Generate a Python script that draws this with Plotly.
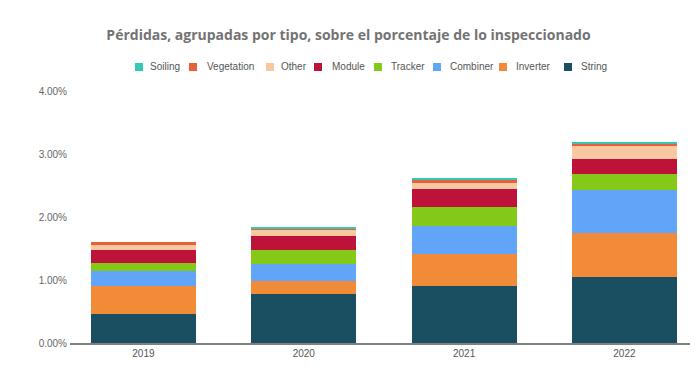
import plotly.graph_objects as go

years = ["2019", "2020", "2021", "2022"]

# stacking order bottom -> top (values in %)
series_names = ["String", "Inverter", "Combiner", "Tracker", "Module", "Other", "Vegetation", "Soiling"]
string_v     = [0.46, 0.78, 0.91, 1.05]
inverter_v   = [0.45, 0.21, 0.51, 0.70]
combiner_v   = [0.23, 0.26, 0.44, 0.68]
tracker_v    = [0.13, 0.23, 0.30, 0.25]
module_v     = [0.21, 0.22, 0.28, 0.24]
other_v      = [0.07, 0.10, 0.10, 0.20]
vegetation_v = [0.05, 0.02, 0.05, 0.05]
soiling_v    = [0.00, 0.02, 0.03, 0.005]

series_values = [string_v, inverter_v, combiner_v, tracker_v, module_v, other_v, vegetation_v, soiling_v]
colors = ["#1a4f62", "#f28b38", "#60a5f8", "#84c918", "#bd123a", "#f8c9a0", "#e8603a", "#34c9b4"]

y_ticks = [0, 1, 2, 3, 4]
y_tick_labels = ["0.00%", "1.00%", "2.00%", "3.00%", "4.00%"]

W, H = 697, 374
ML, MR, MT, MB = 70, 7, 91, 31
PW = W - ML - MR

fig = go.Figure()
for name, vals, col in zip(series_names, series_values, colors):
    fig.add_trace(go.Bar(x=years, y=vals, name=name, marker=dict(color=col, line=dict(width=0)),
                         showlegend=False))

# custom legend (order as in the reference: reversed stacking)
legend_sq_px = [135, 189, 266, 314, 374, 433, 499, 564]
legend_tx_px = [148, 205, 279, 330, 389, 448, 514, 579]
legend_y_px = 67
shapes = []
annotations = []
for i, idx in enumerate(reversed(range(len(series_names)))):
    x0 = (legend_sq_px[i] - ML) / PW
    x1 = (legend_sq_px[i] + 8 - ML) / PW
    y0 = 1 + (MT - (legend_y_px + 4)) / (H - MT - MB)
    y1 = 1 + (MT - (legend_y_px - 4)) / (H - MT - MB)
    shapes.append(dict(type="rect", xref="paper", yref="paper", x0=x0, x1=x1, y0=y0, y1=y1,
                       fillcolor=colors[idx], line=dict(width=0)))
    annotations.append(dict(text=series_names[idx], xref="paper", yref="paper",
                            x=(legend_tx_px[i] - ML) / PW, y=1 + (MT - legend_y_px) / (H - MT - MB),
                            xanchor="left", yanchor="middle", showarrow=False,
                            font=dict(family="Liberation Sans, Arial", size=10, color="#555555")))

fig.update_layout(
    width=W, height=H,
    margin=dict(l=ML, r=MR, t=MT, b=MB, pad=0),
    barmode="stack", bargap=0.345,
    plot_bgcolor="white", paper_bgcolor="white",
    title=dict(text="<b>Pérdidas, agrupadas por tipo, sobre el porcentaje de lo inspeccionado</b>",
               x=0.5, xanchor="center", xref="container",
               y=1 - 35 / H, yanchor="middle", yref="container",
               font=dict(family="Open Sans", size=14, color="#737373")),
    xaxis=dict(range=[-0.458, 3.409], showline=True, linecolor="#808080", linewidth=1.5,
               showgrid=False, ticks="", tickfont=dict(family="Liberation Sans, Arial", size=10, color="#555555")),
    yaxis=dict(range=[0, 4], tickvals=y_ticks, ticktext=y_tick_labels, showgrid=False, zeroline=False,
               showline=False, ticks="", ticklabelstandoff=2,
               tickfont=dict(family="Liberation Sans, Arial", size=10, color="#666666")),
    shapes=shapes, annotations=annotations,
    showlegend=False,
)

fig.write_html("out.html", config={"displayModeBar": False},
               post_script="document.body.style.margin='0px';document.body.style.padding='0px';")
